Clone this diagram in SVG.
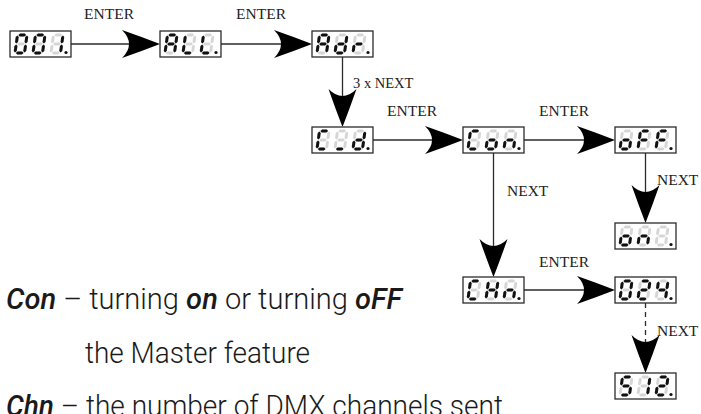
<svg xmlns="http://www.w3.org/2000/svg" width="701" height="414" viewBox="0 0 701 414">
<style>
.box{fill:#fff;stroke:#2b2b2b;stroke-width:1.3}
.con{stroke:#2b2b2b;stroke-width:1.3;fill:none}
.dash{stroke-dasharray:5 4}
.head{fill:#000}
.lbl{font-family:"Liberation Serif",serif;font-size:15.5px;fill:#222}
.off{fill:#d6d6d6}
.on{fill:#111}
.body{font-family:"Roboto Light",Roboto,"Liberation Sans",sans-serif;font-weight:300;font-size:29px;fill:#1a1a1a}
.em{font-family:"Roboto Medium",Roboto,"Liberation Sans",sans-serif;font-style:italic;font-weight:500}
</style>
<defs>
<path id="ah" d="M0,0 Q-18,-7 -38,-14 Q-24,0 -38,14 Q-18,7 0,0 Z"/>
<path id="sa" d="M0.9,0 l1.5,-1.5 h4.7 l1.5,1.5 l-1.5,1.5 h-4.7z"/>
<path id="sg" d="M0.9,9 l1.5,-1.5 h4.7 l1.5,1.5 l-1.5,1.5 h-4.7z"/>
<path id="sd" d="M0.9,18 l1.5,-1.5 h4.7 l1.5,1.5 l-1.5,1.5 h-4.7z"/>
<path id="sf" d="M0,0.5 l1.5,1.5 v5 l-1.5,1.5 l-1.5,-1.5 v-5z"/>
<path id="sb" d="M9.5,0.5 l1.5,1.5 v5 l-1.5,1.5 l-1.5,-1.5 v-5z"/>
<path id="se" d="M0,9.5 l1.5,1.5 v5 l-1.5,1.5 l-1.5,-1.5 v-5z"/>
<path id="sc" d="M9.5,9.5 l1.5,1.5 v5 l-1.5,1.5 l-1.5,-1.5 v-5z"/>
<g id="d8" class="off"><use href="#sa"/><use href="#sb"/><use href="#sc"/><use href="#sd"/><use href="#se"/><use href="#sf"/><use href="#sg"/></g>
<g id="k0" class="on"><use href="#sa"/><use href="#sb"/><use href="#sc"/><use href="#sd"/><use href="#se"/><use href="#sf"/></g>
<g id="k1" class="on"><use href="#sb"/><use href="#sc"/></g>
<g id="k2" class="on"><use href="#sa"/><use href="#sb"/><use href="#sg"/><use href="#se"/><use href="#sd"/></g>
<g id="k4" class="on"><use href="#sf"/><use href="#sg"/><use href="#sb"/><use href="#sc"/></g>
<g id="k5" class="on"><use href="#sa"/><use href="#sf"/><use href="#sg"/><use href="#sc"/><use href="#sd"/></g>
<g id="kA" class="on"><use href="#sa"/><use href="#sb"/><use href="#sc"/><use href="#se"/><use href="#sf"/><use href="#sg"/></g>
<g id="kL" class="on"><use href="#sd"/><use href="#se"/><use href="#sf"/></g>
<g id="kd" class="on"><use href="#sb"/><use href="#sc"/><use href="#sd"/><use href="#se"/><use href="#sg"/></g>
<g id="kr" class="on"><use href="#se"/><use href="#sg"/></g>
<g id="kC" class="on"><use href="#sa"/><use href="#sd"/><use href="#se"/><use href="#sf"/></g>
<g id="kU" class="on"><use href="#sd"/></g>
<g id="ko" class="on"><use href="#sc"/><use href="#sd"/><use href="#se"/><use href="#sg"/></g>
<g id="kn" class="on"><use href="#sc"/><use href="#se"/><use href="#sg"/></g>
<g id="kF" class="on"><use href="#sa"/><use href="#se"/><use href="#sf"/><use href="#sg"/></g>
<g id="kH" class="on"><use href="#sb"/><use href="#sc"/><use href="#se"/><use href="#sf"/><use href="#sg"/></g>
</defs>

<g id="connectors">
<line class="con" x1="71" y1="44" x2="140" y2="44"/><use class="head" href="#ah" transform="translate(160,44)"/>
<line class="con" x1="221" y1="44" x2="292" y2="44"/><use class="head" href="#ah" transform="translate(312,44)"/>
<line class="con" x1="342.5" y1="57" x2="342.5" y2="107"/><use class="head" href="#ah" transform="translate(342.5,127) rotate(90)"/>
<line class="con" x1="373" y1="140" x2="443" y2="140"/><use class="head" href="#ah" transform="translate(463,140)"/>
<line class="con" x1="524" y1="140" x2="595" y2="140"/><use class="head" href="#ah" transform="translate(615,140)"/>
<line class="con" x1="493.5" y1="153" x2="493.5" y2="257"/><use class="head" href="#ah" transform="translate(493.5,277) rotate(90)"/>
<line class="con" x1="645.5" y1="153" x2="645.5" y2="203"/><use class="head" href="#ah" transform="translate(645.5,223) rotate(90)"/>
<line class="con" x1="524" y1="290" x2="595" y2="290"/><use class="head" href="#ah" transform="translate(615,290)"/>
<line class="con dash" x1="645.5" y1="303" x2="645.5" y2="353"/><use class="head" href="#ah" transform="translate(645.5,373) rotate(90)"/>
<text class="lbl" x="109" y="18.5" text-anchor="middle">ENTER</text>
<text class="lbl" x="261" y="18.5" text-anchor="middle">ENTER</text>
<text class="lbl" x="353" y="88" style="font-size:14.5px">3 x NEXT</text>
<text class="lbl" x="412" y="116" text-anchor="middle">ENTER</text>
<text class="lbl" x="564" y="116" text-anchor="middle">ENTER</text>
<text class="lbl" x="507" y="196">NEXT</text>
<text class="lbl" x="657" y="185">NEXT</text>
<text class="lbl" x="564" y="267" text-anchor="middle">ENTER</text>
<text class="lbl" x="657" y="336">NEXT</text>
</g>

<g id="n001"><rect class="box" x="10" y="31" width="61" height="26"/>
<g transform="translate(17.5,35) skewX(-8)"><use href="#d8"/><use href="#k0"/></g>
<g transform="translate(35.5,35) skewX(-8)"><use href="#d8"/><use href="#k0"/></g>
<g transform="translate(53.5,35) skewX(-8)"><use href="#d8"/><use href="#k1"/></g>
<circle class="on" cx="66" cy="52.5" r="1.6"/></g>

<g id="nALL"><rect class="box" x="160" y="31" width="61" height="26"/>
<g transform="translate(167.5,35) skewX(-8)"><use href="#d8"/><use href="#kA"/></g>
<g transform="translate(185.5,35) skewX(-8)"><use href="#d8"/><use href="#kL"/></g>
<g transform="translate(203.5,35) skewX(-8)"><use href="#d8"/><use href="#kL"/></g>
<circle class="on" cx="216" cy="52.5" r="1.6"/></g>

<g id="nAdr"><rect class="box" x="312" y="31" width="61" height="26"/>
<g transform="translate(319.5,35) skewX(-8)"><use href="#d8"/><use href="#kA"/></g>
<g transform="translate(337.5,35) skewX(-8)"><use href="#d8"/><use href="#kd"/></g>
<g transform="translate(355.5,35) skewX(-8)"><use href="#d8"/><use href="#kr"/></g>
<circle class="on" cx="368" cy="52.5" r="1.6"/></g>

<g id="nCid"><rect class="box" x="312" y="127" width="61" height="26"/>
<g transform="translate(319.5,131) skewX(-8)"><use href="#d8"/><use href="#kC"/></g>
<g transform="translate(337.5,131) skewX(-8)"><use href="#d8"/><use href="#kU"/></g>
<g transform="translate(355.5,131) skewX(-8)"><use href="#d8"/><use href="#kd"/></g>
<circle class="on" cx="368" cy="148.5" r="1.6"/></g>

<g id="nCon"><rect class="box" x="463" y="127" width="61" height="26"/>
<g transform="translate(470.5,131) skewX(-8)"><use href="#d8"/><use href="#kC"/></g>
<g transform="translate(488.5,131) skewX(-8)"><use href="#d8"/><use href="#ko"/></g>
<g transform="translate(506.5,131) skewX(-8)"><use href="#d8"/><use href="#kn"/></g>
<circle class="on" cx="519" cy="148.5" r="1.6"/></g>

<g id="noFF"><rect class="box" x="615" y="127" width="61" height="26"/>
<g transform="translate(622.5,131) skewX(-8)"><use href="#d8"/><use href="#ko"/></g>
<g transform="translate(640.5,131) skewX(-8)"><use href="#d8"/><use href="#kF"/></g>
<g transform="translate(658.5,131) skewX(-8)"><use href="#d8"/><use href="#kF"/></g>
<circle class="on" cx="671" cy="148.5" r="1.6"/></g>

<g id="non"><rect class="box" x="615" y="223" width="61" height="26"/>
<g transform="translate(622.5,227) skewX(-8)"><use href="#d8"/><use href="#ko"/></g>
<g transform="translate(640.5,227) skewX(-8)"><use href="#d8"/><use href="#kn"/></g>
<g transform="translate(658.5,227) skewX(-8)"><use href="#d8"/></g>
<circle class="on" cx="671" cy="244.5" r="1.6"/></g>

<g id="nCHn"><rect class="box" x="463" y="277" width="61" height="26"/>
<g transform="translate(470.5,281) skewX(-8)"><use href="#d8"/><use href="#kC"/></g>
<g transform="translate(488.5,281) skewX(-8)"><use href="#d8"/><use href="#kH"/></g>
<g transform="translate(506.5,281) skewX(-8)"><use href="#d8"/><use href="#kn"/></g>
<circle class="on" cx="519" cy="298.5" r="1.6"/></g>

<g id="n024"><rect class="box" x="615" y="277" width="61" height="26"/>
<g transform="translate(622.5,281) skewX(-8)"><use href="#d8"/><use href="#k0"/></g>
<g transform="translate(640.5,281) skewX(-8)"><use href="#d8"/><use href="#k2"/></g>
<g transform="translate(658.5,281) skewX(-8)"><use href="#d8"/><use href="#k4"/></g>
<circle class="on" cx="671" cy="298.5" r="1.6"/></g>

<g id="n512"><rect class="box" x="615" y="373" width="61" height="26"/>
<g transform="translate(622.5,377) skewX(-8)"><use href="#d8"/><use href="#k5"/></g>
<g transform="translate(640.5,377) skewX(-8)"><use href="#d8"/><use href="#k1"/></g>
<g transform="translate(658.5,377) skewX(-8)"><use href="#d8"/><use href="#k2"/></g>
<circle class="on" cx="671" cy="394.5" r="1.6"/></g>

<g id="notes">
<text class="body" x="6" y="309" textLength="396" lengthAdjust="spacingAndGlyphs"><tspan class="em">Con</tspan> – turning <tspan class="em">on</tspan> or turning <tspan class="em">oFF</tspan></text>
<text class="body" x="85" y="363" textLength="225" lengthAdjust="spacingAndGlyphs">the Master feature</text>
<text class="body" x="6" y="416" textLength="497" lengthAdjust="spacingAndGlyphs"><tspan class="em">Chn</tspan> – the number of DMX channels sent</text>
</g>
</svg>
